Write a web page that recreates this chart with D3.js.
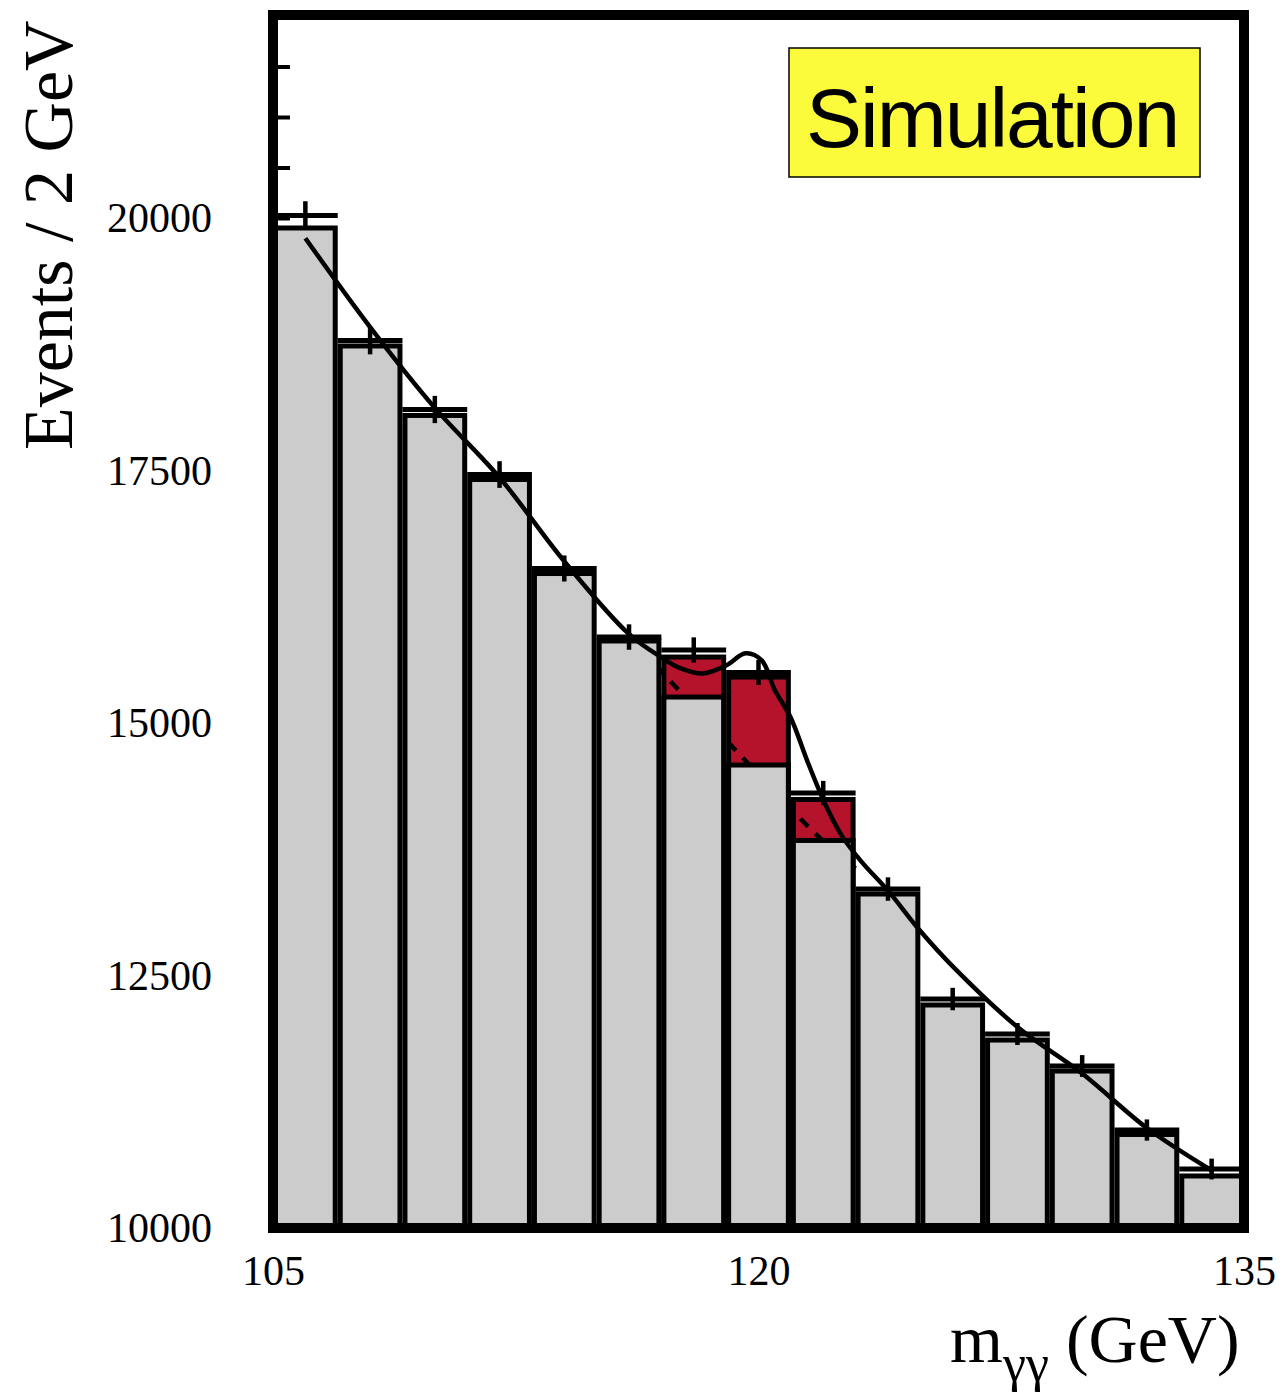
<!DOCTYPE html>
<html>
<head>
<meta charset="utf-8">
<script src="https://cdn.jsdelivr.net/npm/d3@7"></script>
<style>
  html, body { margin: 0; padding: 0; background: #ffffff; }
  svg { display: block; }
</style>
</head>
<body>
<svg id="chart" width="1282" height="1393"></svg>
<script>
// Diphoton invariant mass spectrum, 2 GeV bins from 105 to 135 GeV
const binEdges = [105, 107, 109, 111, 113, 115, 117, 119, 121, 123, 125, 127, 129, 131, 133, 135];

// Simulated events per bin (points with error bars)
const dataCounts = [20025, 18787, 18104, 17460, 16530, 15851, 15723, 15500, 14307, 13356, 12267, 11921, 11604, 10970, 10584];
const dataErrors = [141, 137, 135, 132, 129, 126, 125, 124, 120, 116, 111, 109, 108, 105, 103];

// Stacked histogram: background (grey) and Higgs signal (red)
const bkgCounts = [19901, 18733, 18045, 17411, 16480, 15812, 15257, 14584, 13837, 13307, 12208, 11861, 11554, 10926, 10515];
const sigCounts = [0, 0, 0, 0, 0, 0, 396, 871, 406, 0, 0, 0, 0, 0, 0];

// Signal + background fit (solid line)
const fitMass   = [106, 108, 110, 112, 114, 116, 117, 117.6, 118.3, 119.0, 119.6, 120.1, 120.5, 121.0, 121.5, 122.1, 122.6, 123.2, 124, 125, 126, 128, 130, 132, 134];
const fitCounts = [19800, 18920, 18120, 17430, 16600, 15880, 15650, 15540, 15490, 15570, 15690, 15620, 15330, 15050, 14630, 14170, 13870, 13620, 13340, 12940, 12590, 11990, 11530, 10990, 10570];

// Background-only component under the peak (dashed line)
const bkgMass   = [116, 117, 118, 119, 120, 121, 122, 123];
const bkgCurve  = [15880, 15510, 15170, 14830, 14490, 14150, 13830, 13560];

// Axis labels
const xTickValues = [105, 120, 135];
const yLabelValues = [10000, 12500, 15000, 17500, 20000];
const yMinorValues = d3.range(10000, 22001, 500);

const svg = d3.select("#chart");
const x = d3.scaleLinear().domain([105, 135]).range([273, 1244]);
const y = d3.scaleLinear().domain([10000, 22000]).range([1228, 16]);

const serif = "'Liberation Serif', 'Times New Roman', serif";
const bins = dataCounts.map((d, i) => ({
  lo: binEdges[i], hi: binEdges[i + 1],
  data: d, err: dataErrors[i],
  bkg: bkgCounts[i], sig: sigCounts[i]
}));

// Inward ticks on the left edge
const yAxisMinor = d3.axisRight(y).tickValues(yMinorValues).tickSize(17).tickFormat("");
svg.append("g").attr("transform", `translate(${x(105)},0)`).call(yAxisMinor)
  .call(g => g.select(".domain").remove())
  .call(g => g.selectAll("line").attr("stroke", "#000").attr("stroke-width", 4));

// Signal on top of background (red)
svg.append("g").selectAll("rect.sig")
  .data(bins.filter(b => b.sig > 0))
  .join("rect")
  .attr("class", "sig")
  .attr("x", b => x(b.lo) + 2.5)
  .attr("width", b => x(b.hi) - x(b.lo) - 5)
  .attr("y", b => y(b.bkg + b.sig))
  .attr("height", b => y(10000) - y(b.bkg + b.sig))
  .attr("fill", "#b5122c")
  .attr("stroke", "#000")
  .attr("stroke-width", 5);

// Background component of the fit, dashed
const line = d3.line().x(d => x(d[0])).y(d => y(d[1]));
svg.append("path")
  .datum(bkgMass.map((m, i) => [m, bkgCurve[i]]))
  .attr("d", line.curve(d3.curveCatmullRom.alpha(0.5)))
  .attr("fill", "none")
  .attr("stroke", "#000")
  .attr("stroke-width", 4.5)
  .attr("stroke-dasharray", "11,10");

// Background histogram (grey)
svg.append("g").selectAll("rect.bkg")
  .data(bins)
  .join("rect")
  .attr("class", "bkg")
  .attr("x", b => x(b.lo) + 2.5)
  .attr("width", b => x(b.hi) - x(b.lo) - 5)
  .attr("y", b => y(b.bkg))
  .attr("height", b => y(10000) - y(b.bkg))
  .attr("fill", "#cccccc")
  .attr("stroke", "#000")
  .attr("stroke-width", 5);

// Data points: bin-wide bar and vertical error bar
const pts = svg.append("g");
pts.selectAll("line.h")
  .data(bins)
  .join("line")
  .attr("x1", b => x(b.lo))
  .attr("x2", b => x(b.hi))
  .attr("y1", b => y(b.data))
  .attr("y2", b => y(b.data))
  .attr("stroke", "#000")
  .attr("stroke-width", 5);
pts.selectAll("line.v")
  .data(bins)
  .join("line")
  .attr("x1", b => x((b.lo + b.hi) / 2))
  .attr("x2", b => x((b.lo + b.hi) / 2))
  .attr("y1", b => y(b.data - b.err))
  .attr("y2", b => y(b.data + b.err))
  .attr("stroke", "#000")
  .attr("stroke-width", 4.5);

// Signal + background fit
svg.append("path")
  .datum(fitMass.map((m, i) => [m, fitCounts[i]]))
  .attr("d", d3.line().x(d => x(d[0])).y(d => y(d[1])).curve(d3.curveCatmullRom.alpha(0.5)))
  .attr("fill", "none")
  .attr("stroke", "#000")
  .attr("stroke-width", 4.5)
  .attr("stroke-linejoin", "round");

// Frame
svg.append("rect")
  .attr("x", x(105)).attr("y", y(22000) - 1)
  .attr("width", x(135) - x(105))
  .attr("height", y(10000) - y(22000) + 1)
  .attr("fill", "none")
  .attr("stroke", "#000")
  .attr("stroke-width", 10);

// Tick labels
const yAxisLabels = d3.axisLeft(y).tickValues(yLabelValues).tickSize(0).tickPadding(61).tickFormat(d3.format("d"));
svg.append("g").attr("transform", `translate(${x(105)},0)`).call(yAxisLabels)
  .call(g => g.select(".domain").remove())
  .call(g => g.selectAll("text")
    .attr("font-family", serif).attr("font-size", 42).attr("fill", "#000")
    .attr("dy", "0.33em"));

const xAxis = d3.axisBottom(x).tickValues(xTickValues).tickSize(0).tickPadding(0).tickFormat(d3.format("d"));
svg.append("g").attr("transform", `translate(0,1285)`).call(xAxis)
  .call(g => g.select(".domain").remove())
  .call(g => g.selectAll("text")
    .attr("font-family", serif).attr("font-size", 42).attr("fill", "#000")
    .attr("y", 0).attr("dy", 0));

// Axis titles
svg.append("text")
  .attr("transform", "translate(72,450) rotate(-90)")
  .attr("font-family", serif)
  .attr("font-size", 70)
  .attr("fill", "#000")
  .text("Events / 2 GeV");

const xt = svg.append("text")
  .attr("x", 950).attr("y", 1362)
  .attr("font-family", serif)
  .attr("font-size", 68)
  .attr("fill", "#000");
xt.append("tspan").text("m");
xt.append("tspan").attr("font-size", 52).attr("dy", 19).text("γγ");
xt.append("tspan").attr("dy", -19).text(" (GeV)");

// "Simulation" label box
svg.append("rect")
  .attr("x", 789).attr("y", 48).attr("width", 411).attr("height", 129)
  .attr("fill", "#fbfb3b")
  .attr("stroke", "#000")
  .attr("stroke-width", 1.5);
svg.append("text")
  .attr("x", 806).attr("y", 147)
  .attr("font-family", "'Liberation Sans', Arial, Helvetica, sans-serif")
  .attr("font-size", 84)
  .attr("letter-spacing", -2)
  .attr("fill", "#000")
  .text("Simulation");
</script>
</body>
</html>
